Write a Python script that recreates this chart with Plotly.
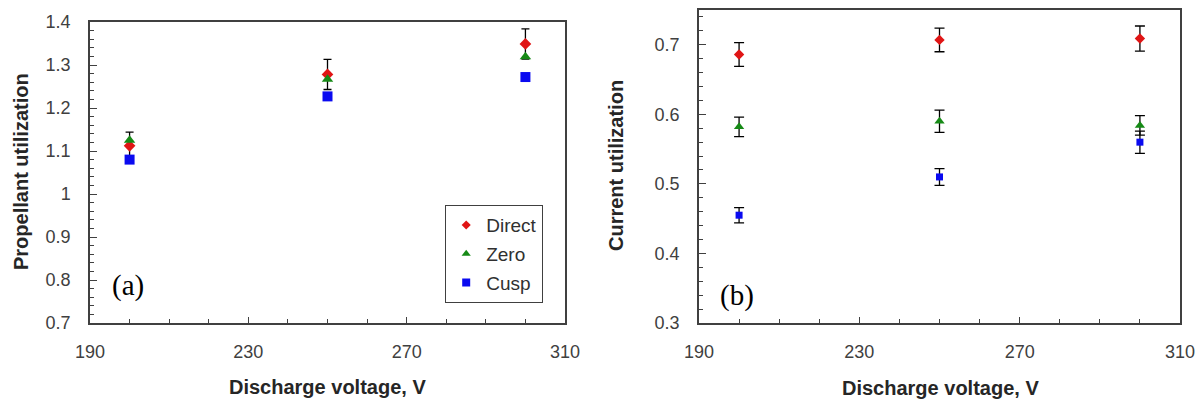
import plotly.graph_objects as go

voltage = [200, 250, 300]

# Panel (a): propellant utilization
prop_direct = [1.112, 1.278, 1.349]
prop_direct_err = [0.032, 0.035, 0.035]
prop_zero = [1.125, 1.267, 1.319]
prop_cusp = [1.080, 1.227, 1.272]

# Panel (b): current utilization
cur_direct = [0.686, 0.707, 0.709]
cur_direct_err = [0.017, 0.017, 0.018]
cur_zero = [0.582, 0.590, 0.584]
cur_zero_err = [0.014, 0.016, 0.014]
cur_cusp = [0.455, 0.510, 0.560]
cur_cusp_err = [0.011, 0.012, 0.016]

series_names = ["Direct", "Zero", "Cusp"]
x_ticks = [190, 230, 270, 310]

RED = "#E01515"
GREEN = "#168A16"
BLUE = "#0A0AF0"
AXC = "#404040"
FONT = "Liberation Sans, Arial, sans-serif"

W, H = 1196, 400

def fx(px):
    return px / W

def fy(py):
    return 1 - py / H

fig = go.Figure()

def err(vals, w=4):
    return dict(type="data", array=vals, visible=True, color="black", thickness=1.3, width=w)

symbols = ["diamond", "triangle-up", "square"]
colors = [RED, GREEN, BLUE]

# Panel (a)
fig.add_trace(go.Scatter(x=voltage, y=prop_direct, mode="markers", name=series_names[0],
                         marker=dict(symbol="diamond", size=9, color=RED),
                         error_y=err(prop_direct_err, 4), xaxis="x", yaxis="y", showlegend=False))
fig.add_trace(go.Scatter(x=voltage, y=prop_zero, mode="markers", name=series_names[1],
                         marker=dict(symbol="triangle-up", size=10, color=GREEN),
                         xaxis="x", yaxis="y", showlegend=False))
fig.add_trace(go.Scatter(x=voltage, y=prop_cusp, mode="markers", name=series_names[2],
                         marker=dict(symbol="square", size=10, color=BLUE),
                         xaxis="x", yaxis="y", showlegend=False))

# Panel (b)
fig.add_trace(go.Scatter(x=voltage, y=cur_direct, mode="markers", name=series_names[0],
                         marker=dict(symbol="diamond", size=8, color=RED),
                         error_y=err(cur_direct_err, 5), xaxis="x2", yaxis="y2", showlegend=False))
fig.add_trace(go.Scatter(x=voltage, y=cur_zero, mode="markers", name=series_names[1],
                         marker=dict(symbol="triangle-up", size=9, color=GREEN),
                         error_y=err(cur_zero_err, 5), xaxis="x2", yaxis="y2", showlegend=False))
fig.add_trace(go.Scatter(x=voltage, y=cur_cusp, mode="markers", name=series_names[2],
                         marker=dict(symbol="square", size=7, color=BLUE),
                         error_y=err(cur_cusp_err, 5), xaxis="x2", yaxis="y2", showlegend=False))

# Legend entries (smaller legend symbols, as in the reference)
legend_sizes = [7, 8, 8]
for nm, sym, col, sz in zip(series_names, symbols, colors, legend_sizes):
    fig.add_trace(go.Scatter(x=[None], y=[None], mode="markers", name=nm,
                             marker=dict(symbol=sym, size=sz, color=col),
                             xaxis="x", yaxis="y", legendgroup=nm, showlegend=True))

tickfont = dict(family=FONT, size=18, color=AXC)

def xaxis(domain, anchor):
    return dict(domain=domain, anchor=anchor, range=[190, 310], tickvals=x_ticks,
                ticks="inside", ticklen=6, tickwidth=1.2, tickcolor=AXC,
                minor=dict(dtick=10, tick0=190, ticks="inside", ticklen=4, tickwidth=1.2, tickcolor=AXC),
                showline=True, linecolor=AXC, linewidth=1.5, mirror=True, automargin=False,
                showgrid=False, zeroline=False, tickfont=tickfont, ticklabelstandoff=12)

def yaxis(domain, anchor, rng):
    return dict(domain=domain, anchor=anchor, range=rng, dtick=0.1, tick0=0.3,
                ticks="inside", ticklen=7, tickwidth=1.2, tickcolor=AXC,
                minor=dict(dtick=0.02, tick0=0.3, ticks="inside", ticklen=4, tickwidth=1.2, tickcolor=AXC),
                showline=True, linecolor=AXC, linewidth=1.5, mirror=True, automargin=False,
                showgrid=False, zeroline=False, tickfont=tickfont, ticklabelstandoff=14)

fig.update_layout(
    width=W, height=H,
    margin=dict(l=0, r=0, t=0, b=0, autoexpand=False),
    paper_bgcolor="white", plot_bgcolor="white",
    showlegend=True,
    xaxis=xaxis([fx(90), fx(565)], "y"),
    yaxis=yaxis([fy(323), fy(22)], "x", [0.7, 1.4]),
    xaxis2=xaxis([fx(699), fx(1180)], "y2"),
    yaxis2=yaxis([fy(323), fy(10)], "x2", [0.3, 0.75]),
    legend=dict(x=fx(445), y=fy(205), xanchor="left", yanchor="top",
                bordercolor=AXC, borderwidth=1.2, bgcolor="white",
                font=dict(family=FONT, size=19, color="#303030"),
                traceorder="grouped", tracegroupgap=1, itemwidth=30),
)

title_font = dict(family=FONT, size=20, color="#262626")
serif = dict(family="Liberation Serif, Times New Roman, serif", size=29, color="black")
ann = [
    dict(text="<b>Discharge voltage, V</b>", x=fx(327), y=fy(387), xref="paper", yref="paper",
         showarrow=False, font=title_font, xanchor="center", yanchor="middle"),
    dict(text="<b>Discharge voltage, V</b>", x=fx(940), y=fy(388), xref="paper", yref="paper",
         showarrow=False, font=title_font, xanchor="center", yanchor="middle"),
    dict(text="<b>Propellant utilization</b>", x=fx(21), y=fy(172), xref="paper", yref="paper",
         showarrow=False, font=title_font, textangle=-90, xanchor="center", yanchor="middle"),
    dict(text="<b>Current utilization</b>", x=fx(616), y=fy(166), xref="paper", yref="paper",
         showarrow=False, font=title_font, textangle=-90, xanchor="center", yanchor="middle"),
    dict(text="(a)", x=fx(128), y=fy(285), xref="paper", yref="paper", showarrow=False,
         font=serif, xanchor="center", yanchor="middle"),
    dict(text="(b)", x=fx(737), y=fy(295), xref="paper", yref="paper", showarrow=False,
         font=serif, xanchor="center", yanchor="middle"),
]
fig.update_layout(annotations=ann)

fig.write_html("out.html", config={"displayModeBar": False},
               post_script="document.body.style.margin='0';document.body.style.overflow='hidden';")
